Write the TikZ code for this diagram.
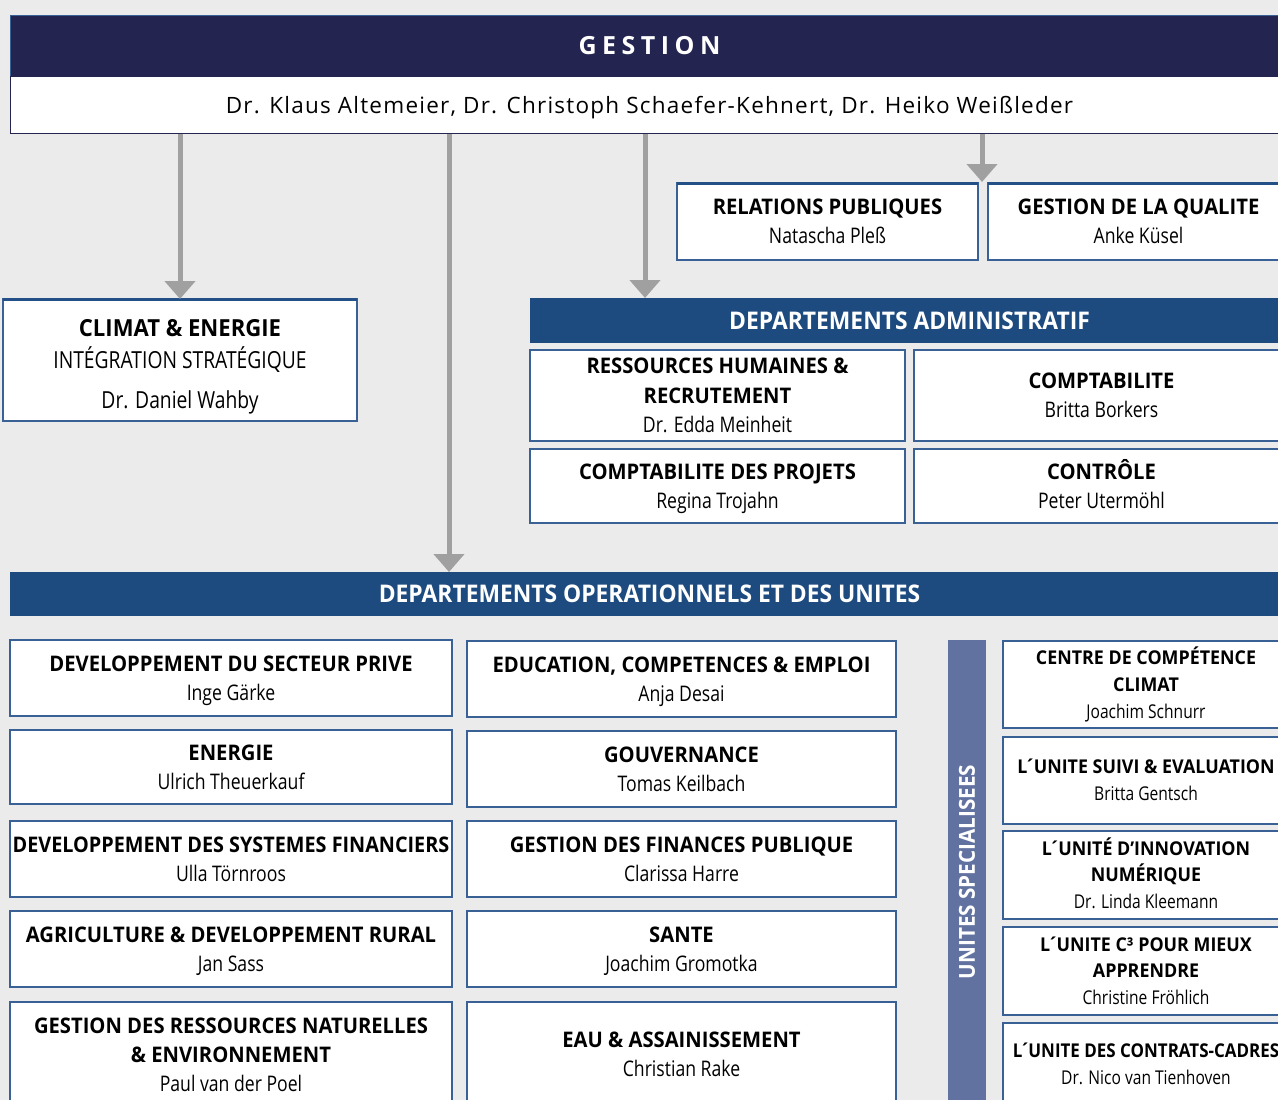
\documentclass[tikz,border=0pt]{standalone}
\usepackage{fontspec}
\usepackage{graphicx}
\setmainfont{Open Sans}
\newfontfamily\cnd{Open Sans}[FakeStretch=0.82, BoldFeatures={FakeStretch=0.94}]
\newfontfamily\wdf{Open Sans}
\usetikzlibrary{arrows.meta}
\definecolor{bgc}{RGB}{235,235,235}
\definecolor{navy}{RGB}{35,37,80}
\definecolor{bblue}{RGB}{29,74,127}
\definecolor{slate}{RGB}{98,114,160}
\definecolor{bord}{RGB}{58,97,150}
\definecolor{topb}{RGB}{35,80,135}
\definecolor{arrg}{RGB}{160,160,160}
\tikzset{
  boxbase/.style={draw=bord, line width=1.3pt, fill=white, inner sep=0pt, outer sep=0pt, align=center},
  ubox/.style={boxbase, font=\cnd\fontsize{21.5}{29.3}\selectfont},
  rbox/.style={boxbase, font=\cnd\fontsize{19}{26.7}\selectfont},
  cbox/.style={boxbase, font=\cnd\fontsize{23.5}{32}\selectfont},
  bar/.style={fill=bblue, draw=none, inner sep=0pt, outer sep=0pt, text=white,
    font=\cnd\bfseries\fontsize{24.3}{28}\selectfont},
  topline/.style={draw=topb, line width=3pt},
  arr/.style={draw=arrg, line width=5pt, -{Triangle[width=30pt,length=18pt]}},
}
\newcommand\bx[7][ubox]{%
  \node[#1, minimum width={(#5-#3)*1pt}, minimum height={(#6-#4)*1pt}] (#2)
    at ({(#3+#5)/2},{(#4+#6)/2}) {#7};}
% struts that centre the capitals of the text block
\newcommand\U[1]{\rule{0pt}{20.5pt}#1\rule[-5.2pt]{0pt}{0pt}}
\newcommand\R[1]{\rule{0pt}{18.2pt}#1\rule[-4.6pt]{0pt}{0pt}}
\newcommand\C[1]{\rule{0pt}{30.4pt}#1\rule[-5.6pt]{0pt}{0pt}}
\newcommand\ac{\kern-2.5pt´\kern-2pt}
\begin{document}
\begin{tikzpicture}[x=1pt,y=-1pt]
\fill[bgc] (0,0) rectangle (1278,1100);
\useasboundingbox (0,0) rectangle (1278,1100);
% header
\bx[fill=navy, draw=bord, line width=0.8pt, inner sep=0pt, text=white,
  font=\wdf\bfseries\fontsize{25}{30}\selectfont\addfontfeatures{LetterSpace=22}]{gestion}{10}{15}{1289}{76}{GESTION}
\bx[fill=white, draw=navy, line width=1pt, inner sep=0pt, text depth=0pt,
  font=\wdf\fontsize{22.5}{28}\selectfont\addfontfeatures{LetterSpace=5.5}]{names}{10}{76}{1289}{133}{Dr. Klaus Altemeier, Dr. Christoph Schaefer-Kehnert, Dr. Heiko Weißleder}
% top boxes
\bx{rp}{677}{183}{978}{260}{\U{\textbf{RELATIONS PUBLIQUES}\\Natascha Pleß}}
\bx{gq}{988}{183}{1289}{260}{\U{\textbf{GESTION DE LA QUALITE}\\Anke Küsel}}
\bx[cbox]{climat}{3}{299}{357}{421}{\C{\textbf{CLIMAT \& ENERGIE}\\INTÉGRATION STRATÉGIQUE\\[8pt]Dr. Daniel Wahby}}
\draw[topline] (rp.north west) -- (rp.north east);
\draw[topline] (gq.north west) -- (gq.north east);
\draw[topline] (climat.north west) -- (climat.north east);
% administratif
\bx[bar]{admin}{530}{298}{1289}{343}{DEPARTEMENTS ADMINISTRATIF}
\bx{rh}{530}{350}{905}{441}{\U{\textbf{RESSOURCES HUMAINES \&}\\\textbf{RECRUTEMENT}\\Dr. Edda Meinheit}}
\bx{compta}{914}{350}{1289}{441}{\U{\textbf{COMPTABILITE}\\Britta Borkers}}
\bx{cdp}{530}{449}{905}{523}{\U{\textbf{COMPTABILITE DES PROJETS}\\Regina Trojahn}}
\bx{ctrl}{914}{449}{1289}{523}{\U{\textbf{CONTRÔLE}\\Peter Utermöhl}}
% operationnels
\bx[bar]{ops}{10}{572}{1289}{616}{DEPARTEMENTS OPERATIONNELS ET DES UNITES}
% left column
\bx{l1}{10}{640}{452}{716}{\U{\textbf{DEVELOPPEMENT DU SECTEUR PRIVE}\\Inge Gärke}}
\bx{l2}{10}{730}{452}{804}{\U{\textbf{ENERGIE}\\Ulrich Theuerkauf}}
\bx{l3}{10}{821}{452}{897}{\U{\scalebox{0.98}[1]{\textbf{DEVELOPPEMENT DES SYSTEMES FINANCIERS}}\\Ulla Törnroos}}
\bx{l4}{10}{911}{452}{987}{\U{\textbf{AGRICULTURE \& DEVELOPPEMENT RURAL}\\Jan Sass}}
\bx{l5}{10}{1002}{452}{1108}{\U{\textbf{GESTION DES RESSOURCES NATURELLES}\\\textbf{\& ENVIRONNEMENT}\\Paul van der Poel}}
% middle column
\bx{m1}{467}{641}{896}{717}{\U{\textbf{EDUCATION, COMPETENCES \& EMPLOI}\\Anja Desai}}
\bx{m2}{467}{731}{896}{807}{\U{\textbf{GOUVERNANCE}\\Tomas Keilbach}}
\bx{m3}{467}{821}{896}{897}{\U{\textbf{GESTION DES FINANCES PUBLIQUE}\\Clarissa Harre}}
\bx{m4}{467}{911}{896}{987}{\U{\textbf{SANTE}\\Joachim Gromotka}}
\bx{m5}{467}{1002}{896}{1107}{\U{\textbf{EAU \& ASSAINISSEMENT}\\Christian Rake}}
% vertical bar
\bx[fill=slate, draw=none, inner sep=0pt]{spec}{948}{640}{986}{1110}{}
\node[rotate=90, text=white, font=\cnd\bfseries\fontsize{22}{26}\selectfont] (spectxt) at (967,872) {UNITES SPECIALISEES};
% right column
\bx[rbox]{r1}{1003}{641}{1289}{728}{\R{\textbf{CENTRE DE COMPÉTENCE}\\\textbf{CLIMAT}\\Joachim Schnurr}}
\bx[rbox]{r2}{1003}{737}{1289}{824}{\R{\textbf{L\ac UNITE SUIVI \& EVALUATION}\\Britta Gentsch}}
\bx[rbox]{r3}{1003}{831}{1289}{919}{\R{\textbf{L\ac UNITÉ D’INNOVATION}\\\textbf{NUMÉRIQUE}\\Dr. Linda Kleemann}}
\bx[rbox]{r4}{1003}{927}{1289}{1015}{\R{\textbf{L\ac UNITE C³ POUR MIEUX}\\\textbf{APPRENDRE}\\Christine Fröhlich}}
\bx[rbox]{r5}{1003}{1023}{1289}{1106}{\R{\scalebox{0.95}[1]{\textbf{L\ac UNITE DES CONTRATS-CADRES}}\\Dr. Nico van Tienhoven}}
% connectors
\coordinate (c449) at (449,0);
\coordinate (c645) at (645,0);
\coordinate (tq) at (982,182);
\draw[arr] (names.south -| climat.north) -- (climat.north);
\draw[arr] (names.south -| c449) -- (ops.north -| c449);
\draw[arr] (names.south -| c645) -- (admin.north -| c645);
\draw[arr] (names.south -| tq) -- (tq);
\end{tikzpicture}
\end{document}
